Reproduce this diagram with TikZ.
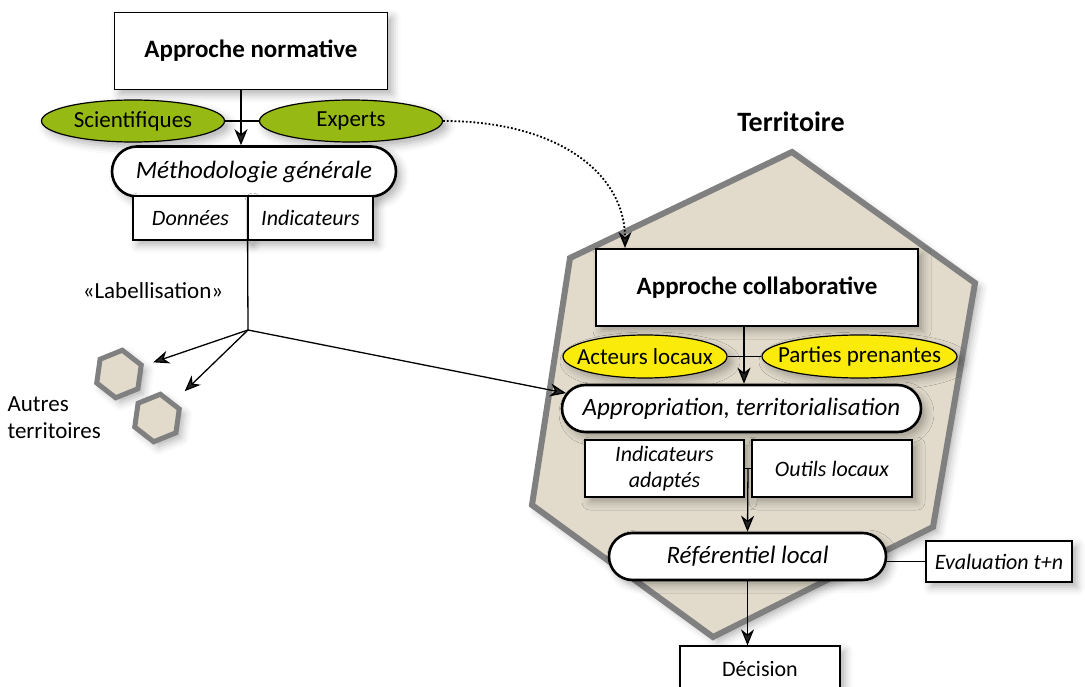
\documentclass[tikz,border=0pt]{standalone}
\usepackage{fontspec}
\setmainfont{Carlito}
\usetikzlibrary{arrows.meta, calc, shapes.misc, shapes.geometric, shadows.blur}

\definecolor{expgreen}{RGB}{150,185,20}
\definecolor{locyellow}{RGB}{250,235,10}
\definecolor{terrfill}{RGB}{226,219,204}
\definecolor{terrline}{RGB}{128,128,128}

\begin{document}
\begin{tikzpicture}[x=1pt, y=-1pt, >={Stealth[length=16pt, width=13pt, inset=5pt]},
	shade/.style={blur shadow={shadow xshift=5pt, shadow yshift=-5pt, shadow blur radius=8pt, shadow opacity=30}},
	titlebox/.style={draw, line width=1.4pt, fill=white, shade, font=\fontsize{25}{28}\selectfont\bfseries},
	actor/.style={ellipse, draw, line width=1.2pt, shade, inner sep=0pt, font=\fontsize{23}{26}\selectfont,
		execute at begin node={\hbox to 0pt\bgroup\hss}, execute at end node={\hss\egroup}},
	stage/.style={rounded rectangle, draw, line width=2.6pt, fill=white, shade, inner xsep=2pt, font=\fontsize{25}{28}\selectfont\itshape},
	toolbox/.style={draw, line width=1.2pt, fill=white, shade, inner sep=2pt, align=center, font=\fontsize{22}{25}\selectfont\itshape},
	region/.style={regular polygon, regular polygon sides=6, shape border rotate=22, draw=terrline, line width=5pt, fill=terrfill, shade, minimum size=48pt, inner sep=0pt},
	link/.style={line width=1.3pt}
]
	\useasboundingbox (0,0) rectangle (1085,687);

	% Territoire
	\draw[line width=6pt, draw=terrline, fill=terrfill, line join=miter, shade]
		(792,152) -- (975,283) -- (933,527) -- (713,637) -- (532,505) -- (570,258) -- cycle;
	\node[font=\fontsize{28}{32}\selectfont\bfseries] (terr) at (791,122) {Territoire};

	% Approche normative
	\node[titlebox, minimum width=273pt, minimum height=77pt] (norm) at (251,51) {Approche normative};
	\node[actor, fill=expgreen, minimum width=183pt, minimum height=42pt] (sci) at (133,121) {Scientifiques};
	\node[actor, fill=expgreen, minimum width=183pt, minimum height=42pt] (exp) at (351,121) {Experts};
	\node[stage, minimum width=288pt, minimum height=50pt] (meth) at (254,171.5) {Méthodologie générale};
	\node[toolbox, minimum width=115pt, minimum height=44pt] (don) at (190.5,218) {Données};
	\node[toolbox, minimum width=125pt, minimum height=44pt] (ind) at (310.5,218) {Indicateurs};

	% Labellisation
	\coordinate (lab) at (248,330);
	\node[font=\fontsize{23}{26}\selectfont] (labtext) at (153,291) {«Labellisation»};
	\node[region] (hexa) at (119,374) {};
	\node[region] (hexb) at (157,418) {};
	\node[anchor=west, align=left, font=\fontsize{23}{27}\selectfont] (autres) at (4,418) {Autres\\territoires};

	% Approche collaborative
	\node[titlebox, minimum width=322pt, minimum height=77pt] (collab) at (757,287.5) {Approche collaborative};
	\node[actor, fill=locyellow, minimum width=164pt, minimum height=43pt] (act) at (645,356.5) {Acteurs locaux};
	\node[actor, fill=locyellow, minimum width=195pt, minimum height=43pt] (part) at (859.5,356.5) {Parties prenantes};
	\node[stage, minimum width=363pt, minimum height=47pt] (appr) at (741.5,408.5) {Appropriation, territorialisation};
	\node[toolbox, minimum width=159pt, minimum height=57pt, font=\fontsize{22}{26}\selectfont\itshape] (inda) at (664.5,468.5) {Indicateurs\\adaptés};
	\node[toolbox, minimum width=160pt, minimum height=57pt] (outl) at (832,468.5) {Outils locaux};
	\node[stage, minimum width=281pt, minimum height=47pt] (ref) at (747.5,556.5) {Référentiel local};
	\node[toolbox, minimum width=146pt, minimum height=41pt] (eval) at (999,561.5) {Evaluation t+n};
	\node[toolbox, font=\fontsize{22}{25}\selectfont, minimum width=160pt, minimum height=46pt] (dec) at (760,669) {Décision};

	% Liens
	\draw[link] (sci.east) -- (exp.west);
	\draw[link, ->] ([xshift=-10pt]norm.south) -- ([xshift=-13pt]meth.north);
	\draw[link] (meth.south -| ind.west) -- (lab);
	\draw[link, ->, shorten >=10pt] (lab) -- (hexa);
	\draw[link, ->, shorten >=15pt] (lab) -- (hexb);
	\draw[link, ->] (lab) -- (appr.175);
	\coordinate (dotend) at (625,248);
	\draw[line width=1.8pt, dotted, ->] (exp.east) .. controls (560,121) and (625,175) .. (dotend);
	\draw[link] (act.east) -- (part.west);
	\draw[link, ->] ([xshift=-13pt]collab.south) -- ([xshift=2.5pt]appr.north);
	\draw[link] (inda.east) -- (outl.west);
	\draw[link, ->] ($(inda.east)!0.5!(outl.west)$) -- (ref.north);
	\draw[link] (ref.east |- eval.west) -- (eval.west);
	\draw[link, ->] (ref.south) -- (ref.south |- dec.north);
\end{tikzpicture}
\end{document}
